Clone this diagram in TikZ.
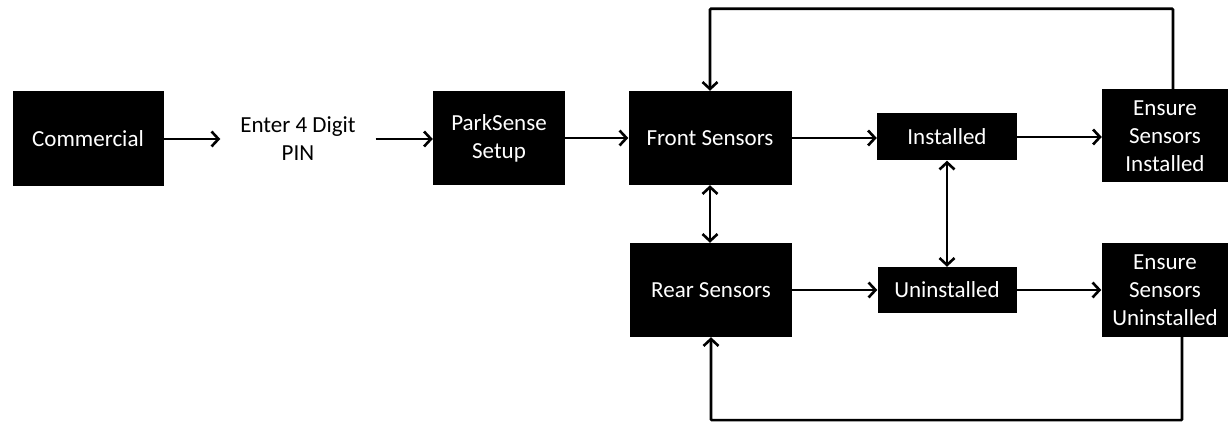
\documentclass[tikz,border=0pt]{standalone}
\usepackage{fontspec}
\setmainfont{Carlito}
\usetikzlibrary{arrows.meta,calc}
\tikzset{
         blk/.style={fill=black,text=white,inner sep=0pt,align=center,
                     font=\fontsize{23}{28}\selectfont},
         txt/.style={inner sep=0pt,align=center,font=\fontsize{23}{28}\selectfont},
         wire/.style={line width=2.6pt,-{Straight Barb[length=7pt,width=15pt]}},
         wire2/.style={line width=2.6pt,{Straight Barb[length=7pt,width=15pt]}-{Straight Barb[length=7pt,width=15pt]}}
        }
\begin{document}
\begin{tikzpicture}[x=1pt,y=1pt]
\useasboundingbox (0,0) rectangle (1228,422);
\node[blk,minimum width=151,minimum height=95] (com) at (88,283) {Commercial}; % Commercial
\node[txt,minimum width=155] (pin) at (298,283) {Enter 4 Digit\\PIN}; % PIN entry
\node[blk,minimum width=132,minimum height=94] (park) at (499,284) {ParkSense\\Setup}; % setup
\node[blk,minimum width=163,minimum height=94] (front) at (710,284) {Front Sensors}; % front
\node[blk,minimum width=162,minimum height=94] (rear) at (711,132) {Rear Sensors}; % rear
\node[blk,minimum width=140,minimum height=47] (inst) at (947,285) {Installed}; % installed
\node[blk,minimum width=139,minimum height=46] (uninst) at (947,132) {Uninstalled}; % uninstalled
\node[blk,minimum width=126,minimum height=93] (ensI) at (1165,286) {Ensure\\Sensors\\Installed}; % ensure installed
\node[blk,minimum width=127,minimum height=94] (ensU) at (1165,132) {Ensure\\Sensors\\Uninstalled}; % ensure uninstalled
\draw[wire] (com) -- (pin.west|-com); % Wiring
\draw[wire] (pin.east) -- (park.west|-pin.east); % Wiring
\draw[wire] (park) -- (front); % Wiring
\draw[wire] (front.east) -- (inst.west|-front.east); % Wiring
\draw[wire] (inst) -- (ensI.west|-inst); % Wiring
\draw[wire] (rear) -- (uninst); % Wiring
\draw[wire] (uninst) -- (ensU.west|-uninst); % Wiring
\draw[wire2] (front) -- (front|-rear.north); % front/rear
\draw[wire2] (inst) -- (uninst); % installed/uninstalled
\draw[wire,rounded corners=1pt] ([xshift=8]ensI.north) |- ([yshift=82]front.north) -- (front.north); % top loop
\draw[wire,rounded corners=1pt] ([xshift=17]ensU.south) |- ([yshift=-83]rear.south) -- (rear.south); % bottom loop
\end{tikzpicture}
\end{document}
